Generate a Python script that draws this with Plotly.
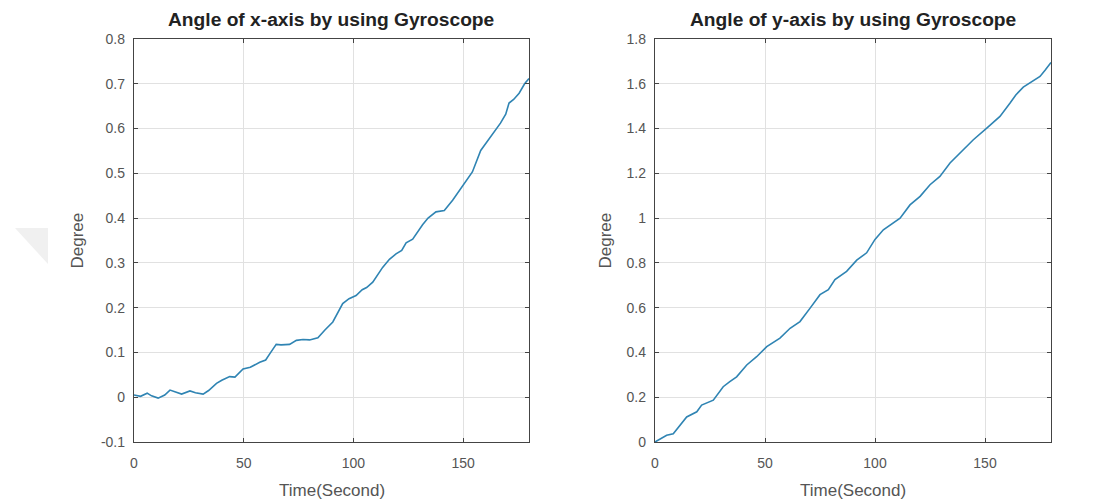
import plotly.graph_objects as go

# Left chart: angle of x-axis
x_time_left = [0, 3, 6, 8, 11, 14, 16.4, 19, 21.7, 25.5, 28, 31.5, 34, 37.6, 40, 43.6, 46, 49.7,
               53, 57.3, 60, 62, 64.8, 67, 70.9, 74, 77, 80, 83.8, 87, 90.6, 95.1, 98, 101.2,
               104, 106, 108.8, 113.3, 116.4, 119.4, 122, 124, 127, 131.5, 134, 137.6, 141.4,
               145.2, 148, 151.2, 154.2, 158, 161.8, 164.8, 167, 169.4, 170.9, 173, 175.5, 178, 180]
angle_x = [0.005, 0.002, 0.009, 0.003, -0.002, 0.005, 0.016, 0.012, 0.007, 0.014, 0.010, 0.007,
           0.015, 0.031, 0.038, 0.046, 0.045, 0.063, 0.067, 0.078, 0.083, 0.098, 0.118, 0.117,
           0.118, 0.127, 0.129, 0.128, 0.133, 0.15, 0.168, 0.209, 0.22, 0.227, 0.24, 0.245,
           0.257, 0.29, 0.308, 0.32, 0.328, 0.345, 0.353, 0.385, 0.40, 0.414, 0.417, 0.44,
           0.46, 0.484, 0.503, 0.551, 0.576, 0.595, 0.612, 0.632, 0.657, 0.665, 0.679, 0.70, 0.712]

# Right chart: angle of y-axis
x_time_right = [0, 2, 5.3, 8.3, 11, 14.4, 19, 21.2, 26.5, 31, 34, 37.1, 41.7, 46.2, 50.8, 53,
                56.8, 61.4, 65.9, 70.5, 75, 78.8, 81.8, 87.1, 91.7, 96.2, 100, 103.8, 106.8,
                111.4, 115.9, 120.5, 125, 129.5, 134.1, 140.1, 144.7, 150.8, 156.8, 161.4,
                164, 167.4, 170.5, 175, 177.3, 180]
angle_y = [0, 0.01, 0.03, 0.037, 0.07, 0.112, 0.135, 0.165, 0.187, 0.247, 0.27, 0.291, 0.344,
           0.381, 0.426, 0.44, 0.464, 0.508, 0.538, 0.598, 0.658, 0.68, 0.725, 0.762, 0.812,
           0.845, 0.905, 0.948, 0.97, 1.0, 1.059, 1.097, 1.149, 1.186, 1.246, 1.305, 1.35,
           1.402, 1.454, 1.514, 1.55, 1.585, 1.603, 1.633, 1.66, 1.695]

x_ticks = [0, 50, 100, 150]
x_tick_labels = ["0", "50", "100", "150"]
y_ticks_left = [-0.1, 0, 0.1, 0.2, 0.3, 0.4, 0.5, 0.6, 0.7, 0.8]
y_tick_labels_left = ["-0.1", "0", "0.1", "0.2", "0.3", "0.4", "0.5", "0.6", "0.7", "0.8"]
y_ticks_right = [0, 0.2, 0.4, 0.6, 0.8, 1, 1.2, 1.4, 1.6, 1.8]
y_tick_labels_right = ["0", "0.2", "0.4", "0.6", "0.8", "1", "1.2", "1.4", "1.6", "1.8"]

titles = ["Angle of x-axis by using Gyroscope", "Angle of y-axis by using Gyroscope"]
x_label = "Time(Second)"
y_label = "Degree"

W, H = 1097, 503
OFF = 8  # page body margin
line_color = "#2f84b3"
font_family = "Liberation Sans, Arial, sans-serif"


def px(x):
    return (x - OFF) / W


def py(y):
    return 1 - (y - OFF) / H


fig = go.Figure()
fig.add_trace(go.Scatter(x=x_time_left, y=angle_x, mode="lines",
                         line=dict(color=line_color, width=1.6), xaxis="x", yaxis="y",
                         showlegend=False))
fig.add_trace(go.Scatter(x=x_time_right, y=angle_y, mode="lines",
                         line=dict(color=line_color, width=1.6), xaxis="x2", yaxis="y2",
                         showlegend=False))

ydom = [py(442), py(39)]
left_dom = [px(134), px(529)]
right_dom = [px(655), px(1051)]

axis_common = dict(showline=True, linecolor="#444444", linewidth=1.3, mirror="ticks",
                   ticks="inside", ticklen=4, tickcolor="#444444", showgrid=True,
                   gridcolor="#e1e1e1", gridwidth=1, zeroline=False, automargin=False,
                   tickfont=dict(family=font_family, size=14, color="#555555"))

fig.update_layout(
    width=W, height=H,
    margin=dict(l=0, r=0, t=0, b=0),
    paper_bgcolor="white", plot_bgcolor="white",
    font=dict(family=font_family),
    xaxis=dict(domain=left_dom, range=[0, 180], tickvals=x_ticks, ticktext=x_tick_labels,
               anchor="y", ticklabelstandoff=8, **axis_common),
    yaxis=dict(domain=ydom, range=[-0.1, 0.8], tickvals=y_ticks_left,
               ticktext=y_tick_labels_left, anchor="x", ticklabelstandoff=5, **axis_common),
    xaxis2=dict(domain=right_dom, range=[0, 180], tickvals=x_ticks, ticktext=x_tick_labels,
                anchor="y2", ticklabelstandoff=8, **axis_common),
    yaxis2=dict(domain=ydom, range=[0, 1.8], tickvals=y_ticks_right,
                ticktext=y_tick_labels_right, anchor="x2", ticklabelstandoff=5, **axis_common),
)

label_font = dict(family=font_family, size=17, color="#555555")
for title, dom, ylab_x in zip(titles, [left_dom, right_dom], [77, 605]):
    cx = (dom[0] + dom[1]) / 2
    fig.add_annotation(text="<b>" + title + "</b>", xref="paper", yref="paper",
                       x=cx, y=py(20), xanchor="center", yanchor="middle", showarrow=False,
                       font=dict(family=font_family, size=19.2, color="#222222"))
    fig.add_annotation(text=x_label, xref="paper", yref="paper",
                       x=cx, y=py(490), xanchor="center", yanchor="middle", showarrow=False,
                       font=label_font)
    fig.add_annotation(text=y_label, xref="paper", yref="paper", textangle=-90,
                       x=px(ylab_x), y=(ydom[0] + ydom[1]) / 2, xanchor="center",
                       yanchor="middle", showarrow=False, font=label_font)

# faint watermark triangle at the left edge
fig.add_shape(type="path", xref="paper", yref="paper",
              path=f"M {px(15)} {py(228)} L {px(48)} {py(228)} L {px(48)} {py(264)} Z",
              fillcolor="#f0f0f0", line=dict(width=0), layer="below")

fig.write_html("out.html")
